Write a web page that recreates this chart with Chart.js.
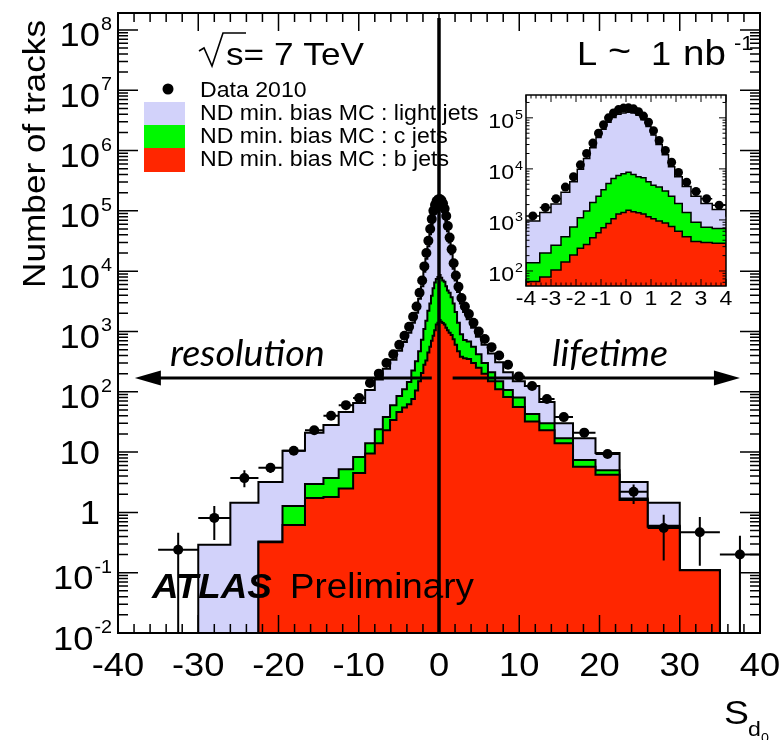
<!DOCTYPE html>
<html>
<head>
<meta charset="utf-8">
<title>Sd0 distribution</title>
<script src="https://cdn.jsdelivr.net/npm/chart.js@4.4.1/dist/chart.umd.min.js"></script>
<style>
  html, body { margin: 0; padding: 0; background: #fff; }
  #wrap { position: relative; width: 784px; height: 740px; overflow: hidden; }
  canvas { position: absolute; }
  #mainChart { left: 0; top: 0; }
  #insetChart { left: 470px; top: 80px; }
</style>
</head>
<body>
<div id="wrap">
  <canvas id="mainChart" width="784" height="740"></canvas>
  <canvas id="insetChart" width="270" height="240"></canvas>
</div>
<script>
// bin edges of S_d0 (61 edges -> 60 bins)
const binEdges = [-40, -35, -30, -26, -22.5, -19.5, -16.7, -14.4, -12.5, -10.7,
  -9.2, -8, -7, -6.1, -5.3, -4.6, -4, -3.45, -3, -2.6,
  -2.25, -1.95, -1.7, -1.45, -1.2, -1, -0.8, -0.6, -0.4, -0.2,
  0, 0.2, 0.4, 0.6, 0.8, 1, 1.2, 1.45, 1.7, 1.95,
  2.25, 2.6, 3, 3.45, 4, 4.6, 5.3, 6.1, 7, 8,
  9.2, 10.7, 12.5, 14.4, 16.7, 19.5, 22.5, 26, 30, 35, 40];

// Data 2010 (tracks per bin)
const dataCounts = [null, 0.24, 0.81, 3.7, 5.5, 10.5, 23, 40, 60, 79,
  140, 200, 300, 420, 600, 850, 1200, 1750, 2600, 4400,
  7000, 12000, 20000, 32000, 50000, 73000, 100000, 125000, 145000, 155000,
  157000, 150000, 132000, 108000, 82000, 56000, 36000, 23000, 13500, 8500,
  5500, 3600, 2600, 1950, 1400, 1000, 750, 550, 400, 280,
  180, 125, 76, 38, 21, 9.3, 2.2, 0.55, 0.47, 0.2];

// visible vertical error bars (lower / upper ends), null = hidden under the marker
const dataErrLow = [null, 1e-4, 0.35, 2.6, 4.5, 9.0, null, null, null, null,
  null, null, null, null, null, null, null, null, null, null,
  null, null, null, null, null, null, null, null, null, null,
  null, null, null, null, null, null, null, null, null, null,
  null, null, null, null, null, null, null, null, null, null,
  null, null, null, null, 18, 8.0, 1.38, 0.16, 0.13, 1e-4];
const dataErrHigh = [null, 0.46, 1.28, 5.0, 6.6, 12, null, null, null, null,
  null, null, null, null, null, null, null, null, null, null,
  null, null, null, null, null, null, null, null, null, null,
  null, null, null, null, null, null, null, null, null, null,
  null, null, null, null, null, null, null, null, null, null,
  null, null, null, null, 24, 10.8, 2.9, 0.91, 0.84, 0.41];

// stacked MC: light + c + b (top of the light-jet stack)
const mcTotal = [0, 0, 0.29, 1.44, 3.2, 10.5, 21, 28, 46, 65,
  107, 160, 240, 340, 480, 670, 950, 1400, 2050, 3500,
  5600, 9800, 16000, 26000, 41000, 60000, 82000, 102000, 118000, 125000,
  128000, 125000, 112000, 92000, 68000, 46000, 30000, 19000, 11000, 7000,
  4500, 2900, 2100, 1600, 1150, 820, 600, 430, 310, 210,
  150, 125, 68, 30, 17, 9.7, 3.2, 1.44, 0.11, 0];
// c + b
const mcCharmPlusB = [0, 0, 0, 0, 0.33, 1.28, 2.95, 3.7, 5.2, 8.3,
  14, 24, 38, 60, 85, 110, 145, 225, 320, 470,
  730, 1100, 1500, 2200, 2900, 3900, 5200, 6500, 7400, 8000,
  8600, 7800, 7000, 6700, 5600, 4800, 4400, 3700, 2900, 2100,
  1400, 900, 720, 680, 560, 420, 300, 210, 150, 107,
  80, 43, 30, 17, 7.4, 5.0, 1.7, 0.6, 0.11, 0];
// b only
const mcB = [0, 0, 0, 0, 0.32, 0.62, 1.73, 1.8, 2.5, 4.5,
  9.5, 14, 23, 34, 46, 55, 62, 76, 105, 150,
  205, 280, 330, 450, 560, 700, 850, 1050, 1300, 1400,
  1550, 1450, 1380, 1300, 1150, 1050, 950, 870, 740, 600,
  470, 380, 360, 350, 300, 250, 200, 150, 110, 82,
  56, 32, 23, 14, 5.7, 4.2, 1.6, 0.58, 0.11, 0];

const xTickValues = [-40, -30, -20, -10, 0, 10, 20, 30, 40];
const yTickPowers = [-2, -1, 0, 1, 2, 3, 4, 5, 6, 7, 8];
const insetXTickValues = [-4, -3, -2, -1, 0, 1, 2, 3, 4];
const insetYTickPowers = [2, 3, 4, 5];

const arrowLevel = 170;
const resolutionArrow = [-0.9, -37.9];
const lifetimeArrow = [1.7, 37.5];

const LIGHT = '#d2d2fa', CHARM = '#00f800', BEAUTY = '#ff2600';
const FONT = '"Liberation Sans", Arial, Helvetica, sans-serif';
const FLOOR = 1e-4;

const binCentres = dataCounts.map((_, i) => (binEdges[i] + binEdges[i + 1]) / 2);

function histPoints(vals) {
  const first = vals.findIndex(v => v > 0);
  let last = vals.length - 1;
  while (!(vals[last] > 0)) last--;
  const pts = [{x: binEdges[first], y: FLOOR}];
  for (let i = first; i <= last; i++) pts.push({x: binEdges[i], y: vals[i]});
  pts.push({x: binEdges[last + 1], y: vals[last]}, {x: binEdges[last + 1], y: FLOOR});
  return pts;
}

function errorBarPoints() {
  const pts = [];
  dataCounts.forEach((v, i) => {
    if (v == null) return;
    const c = binCentres[i];
    pts.push({x: binEdges[i], y: v}, {x: binEdges[i + 1], y: v}, {x: c, y: null});
    if (dataErrLow[i] != null) {
      pts.push({x: c, y: dataErrLow[i]}, {x: c, y: dataErrHigh[i]}, {x: c, y: null});
    }
  });
  return pts;
}

function buildDatasets(dotRadius, lineW) {
  const hist = (vals, color, order) => ({
    data: histPoints(vals), stepped: 'before', fill: 'start',
    backgroundColor: color, borderColor: '#000', borderWidth: lineW,
    borderJoinStyle: 'miter', pointRadius: 0, order, clip: 0
  });
  return [
    { data: dataCounts.map((v, i) => ({x: binCentres[i], y: v})), showLine: false,
      pointRadius: dotRadius, pointBackgroundColor: '#000', pointBorderWidth: 0, order: 0 },
    { data: errorBarPoints(), borderColor: '#000', borderWidth: lineW, pointRadius: 0,
      spanGaps: false, fill: false, order: 1, clip: 0 },
    hist(mcB, BEAUTY, 2),
    hist(mcCharmPlusB, CHARM, 3),
    hist(mcTotal, LIGHT, 4)
  ];
}

// text helper, with a slight horizontal stretch like the ROOT Helvetica
function txt(ctx, s, x, y, size, o = {}) {
  const align = o.align || 'left', stretch = o.stretch || 1.1;
  ctx.save();
  ctx.font = `${o.style || ''} ${o.weight || ''} ${size}px ${o.family || FONT}`;
  ctx.fillStyle = '#000';
  ctx.textBaseline = 'alphabetic';
  ctx.textAlign = 'left';
  const w = ctx.measureText(s).width * stretch;
  let x0 = x;
  if (align === 'right') x0 = x - w;
  else if (align === 'center') x0 = x - w / 2;
  ctx.translate(x0, y);
  ctx.scale(stretch, 1);
  ctx.fillText(s, 0, 0);
  ctx.restore();
  return w;
}
function textWidth(ctx, s, size, stretch = 1.1) {
  ctx.save();
  ctx.font = `${size}px ${FONT}`;
  const w = ctx.measureText(s).width * stretch;
  ctx.restore();
  return w;
}

function powLabel(ctx, p, xr, yt, o) {
  if (p === 0 || p === 1) {
    txt(ctx, p ? '10' : '1', xr - o.plainShift, yt + o.bs * 0.36, o.bs, {align: 'right'});
    return;
  }
  const e = String(p);
  const ws = textWidth(ctx, e, o.ss);
  const wb = textWidth(ctx, '10', o.bs);
  const x0 = xr - ws - wb - 1;
  txt(ctx, '10', x0, yt + o.baseDy, o.bs);
  txt(ctx, e, x0 + wb + 1, yt + o.supDy, o.ss);
}

function drawAxes(chart, o) {
  const {ctx, chartArea: a, scales: {x, y}} = chart;
  ctx.save();
  ctx.strokeStyle = '#000';
  ctx.lineWidth = o.tickWidth;
  ctx.beginPath();
  const n = Math.round((x.max - x.min) / o.xMinorStep);
  for (let k = 0; k <= n; k++) {
    const v = x.min + k * o.xMinorStep;
    const r = v / o.xMajorStep;
    const len = Math.abs(r - Math.round(r)) < 1e-6 ? o.xMajorLen : o.xMinorLen;
    const px = x.getPixelForValue(v);
    ctx.moveTo(px, a.bottom); ctx.lineTo(px, a.bottom - len);
    ctx.moveTo(px, a.top); ctx.lineTo(px, a.top + len);
  }
  const d0 = Math.floor(Math.log10(y.min)), d1 = Math.ceil(Math.log10(y.max));
  for (let d = d0; d <= d1; d++) {
    for (let m = 1; m <= 9; m++) {
      const v = m * Math.pow(10, d);
      if (v < y.min * 0.999 || v > y.max) continue;
      const py = y.getPixelForValue(v);
      const len = m === 1 ? o.yMajorLen : o.yMinorLen;
      ctx.moveTo(a.left, py); ctx.lineTo(a.left + len, py);
      ctx.moveTo(a.right, py); ctx.lineTo(a.right - len, py);
    }
  }
  ctx.stroke();
  ctx.lineWidth = o.frameWidth;
  ctx.strokeRect(a.left, a.top, a.right - a.left, a.bottom - a.top);
  ctx.restore();
}

function arrow(ctx, xFrom, xTip, y) {
  const dir = Math.sign(xTip - xFrom);
  ctx.beginPath();
  ctx.moveTo(xFrom, y); ctx.lineTo(xTip - dir * 20, y);
  ctx.stroke();
  ctx.beginPath();
  ctx.moveTo(xTip, y);
  ctx.lineTo(xTip - dir * 26, y - 7.5);
  ctx.lineTo(xTip - dir * 26, y + 7.5);
  ctx.closePath();
  ctx.fill();
}

const ITALIC_FONT = 'Lato, "Open Sans", sans-serif';

const mainDecor = {
  id: 'mainDecor',
  afterDatasetsDraw(chart) {
    const {ctx, chartArea: a, scales: {x, y}} = chart;
    ctx.save();
    ctx.strokeStyle = '#000'; ctx.fillStyle = '#000';
    ctx.lineWidth = 3.5;
    const x0 = x.getPixelForValue(0);
    ctx.beginPath(); ctx.moveTo(x0, a.top + 5); ctx.lineTo(x0, a.bottom); ctx.stroke();
    ctx.lineWidth = 3;
    const ya = y.getPixelForValue(arrowLevel);
    arrow(ctx, x.getPixelForValue(resolutionArrow[0]), x.getPixelForValue(resolutionArrow[1]), ya);
    arrow(ctx, x.getPixelForValue(lifetimeArrow[0]), x.getPixelForValue(lifetimeArrow[1]), ya);
    ctx.restore();
  },
  afterDraw(chart) {
    const {ctx, scales: {x, y}} = chart;
    drawAxes(chart, {tickWidth: 1.5, frameWidth: 2, xMinorStep: 2, xMajorStep: 10,
      xMajorLen: 18, xMinorLen: 9, yMajorLen: 20, yMinorLen: 10});

    yTickPowers.forEach(p => powLabel(ctx, p, 112, y.getPixelForValue(Math.pow(10, p)),
      {bs: 33, ss: 18, baseDy: 16.5, supDy: 0, plainShift: 12}));
    xTickValues.forEach(v => txt(ctx, String(v), x.getPixelForValue(v), 676, 33, {align: 'center'}));

    // axis titles
    ctx.save();
    ctx.translate(45, 20);
    ctx.rotate(-Math.PI / 2);
    txt(ctx, 'Number of tracks', 0, 0, 32, {align: 'right'});
    ctx.restore();
    txt(ctx, 'S', 724, 724, 34);
    txt(ctx, 'd', 748, 736, 21);
    txt(ctx, '0', 761, 742, 13);

    // sqrt(s) = 7 TeV
    ctx.save();
    ctx.strokeStyle = '#000'; ctx.lineWidth = 1.6;
    ctx.beginPath();
    ctx.moveTo(199, 51); ctx.lineTo(204, 48); ctx.lineTo(212, 66); ctx.lineTo(223, 33); ctx.lineTo(246, 33);
    ctx.stroke();
    ctx.restore();
    txt(ctx, 's= 7 TeV', 226, 65, 32);

    // L ~ 1 nb-1
    txt(ctx, 'L', 577, 65, 33);
    txt(ctx, '~', 608, 63, 36);
    txt(ctx, '1', 651, 65, 33);
    txt(ctx, 'nb', 683, 65, 35);
    txt(ctx, '-1', 734, 50, 20);

    // legend
    ctx.save();
    ctx.fillStyle = '#000';
    ctx.beginPath(); ctx.arc(168, 89, 5.5, 0, Math.PI * 2); ctx.fill();
    ctx.fillStyle = LIGHT; ctx.fillRect(144, 102, 41, 23);
    ctx.fillStyle = CHARM; ctx.fillRect(144, 125, 41, 23);
    ctx.fillStyle = BEAUTY; ctx.fillRect(144, 148, 41, 24);
    ctx.restore();
    txt(ctx, 'Data 2010', 200, 97, 22, {stretch: 1.05});
    txt(ctx, 'ND min. bias MC : light jets', 200, 120, 22, {stretch: 1.05});
    txt(ctx, 'ND min. bias MC : c jets', 200, 143, 22, {stretch: 1.05});
    txt(ctx, 'ND min. bias MC : b jets', 200, 166, 22, {stretch: 1.05});

    // annotations
    txt(ctx, 'resolution', 170, 366, 36, {style: 'italic', family: ITALIC_FONT, stretch: 1.05});
    txt(ctx, 'lifetime', 552, 366, 36, {style: 'italic', family: ITALIC_FONT, stretch: 1.05});
    txt(ctx, 'ATLAS', 152, 598, 35, {style: 'italic', weight: 'bold', stretch: 1.05});
    txt(ctx, 'Preliminary', 290, 598, 35, {stretch: 1.05});
  }
};

const insetDecor = {
  id: 'insetDecor',
  beforeDraw(chart) {
    const {ctx, chartArea: a} = chart;
    ctx.save();
    ctx.fillStyle = '#fff';
    ctx.fillRect(a.left, a.top, a.right - a.left, a.bottom - a.top);
    ctx.restore();
  },
  afterDraw(chart) {
    const {ctx, scales: {x, y}} = chart;
    drawAxes(chart, {tickWidth: 1, frameWidth: 1.5, xMinorStep: 0.2, xMajorStep: 1,
      xMajorLen: 7, xMinorLen: 3.5, yMajorLen: 7, yMinorLen: 3.5});
    insetYTickPowers.forEach(p => powLabel(ctx, p, 53, y.getPixelForValue(Math.pow(10, p)),
      {bs: 21, ss: 13, baseDy: 10, supDy: 1, plainShift: 6}));
    insetXTickValues.forEach(v => txt(ctx, String(v), x.getPixelForValue(v), 225, 21, {align: 'center'}));
  }
};

const commonOpts = (pad, xr, yr) => ({
  responsive: false, animation: false, devicePixelRatio: 1, events: [],
  layout: {padding: pad},
  scales: {
    x: {type: 'linear', min: xr[0], max: xr[1], display: false},
    y: {type: 'logarithmic', min: yr[0], max: yr[1], display: false}
  },
  plugins: {legend: {display: false}, tooltip: {enabled: false}}
});

new Chart(document.getElementById('mainChart'), {
  type: 'line',
  data: {datasets: buildDatasets(5, 2)},
  options: commonOpts({left: 118, right: 24, top: 13, bottom: 107}, [-40, 40], [0.01, 1.91e8]),
  plugins: [mainDecor]
});

new Chart(document.getElementById('insetChart'), {
  type: 'line',
  data: {datasets: buildDatasets(4.5, 1.5)},
  options: commonOpts({left: 56, right: 14, top: 15, bottom: 34}, [-4, 4], [50.8, 2.8e5]),
  plugins: [insetDecor]
});
</script>
</body>
</html>
